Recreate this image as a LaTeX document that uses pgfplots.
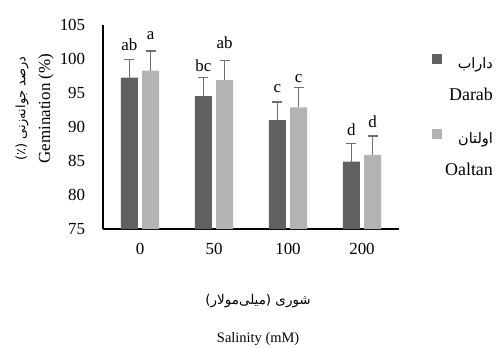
\documentclass[border=0pt]{standalone}
\usepackage{fontspec}
\setmainfont{Liberation Serif}
\newfontfamily\fa[Script=Arabic]{DejaVu Sans}
\TeXXeTstate=1
\usepackage{pgfplots}
\pgfplotsset{compat=1.18}
\definecolor{darkbar}{HTML}{606060}
\definecolor{lightbar}{HTML}{B3B3B3}
\definecolor{errc}{HTML}{6E6E6E}
\begin{document}
\fontsize{17}{20}\selectfont
\begin{tikzpicture}
\useasboundingbox (0,0) rectangle (497bp,-348bp);
\begin{axis}[
  at={(103bp,-229bp)}, anchor=south west,
  scale only axis, width=296bp, height=204bp,
  ymin=75, ymax=105, xmin=-0.5, xmax=3.5,
  axis x line*=bottom, axis y line*=left,
  axis line style={black, line width=1.6bp, -},
  ytick={75,80,...,105}, xtick={0,1,2,3}, xticklabels={0,50,100,200},
  major tick length=0pt,
  /pgf/number format/assume math mode=true,
  yticklabel style={xshift=-12bp},
  xticklabel style={yshift=-8bp},
  ybar, bar width=17bp,
  ylabel={{\fontsize{13}{15}\selectfont\fa\beginR درصد جوانه‌زنی (٪)\endR}\\[5bp]Gemination (\%)},
  ylabel style={align=center, at={(axis description cs:-0.231,0.59)}, anchor=center},
  xlabel={{\fontsize{13.5}{16}\selectfont\fa\beginR شوری (میلی‌مولار)\endR}\\[18bp]{\fontsize{14.5}{17}\selectfont Salinity (mM)}},
  xlabel style={align=center, at={(axis description cs:0.524,-0.445)}, anchor=center},
  legend image code/.code={\path (0,0); \fill[#1, overlay] (-13bp,15.7bp) rectangle (-3.5bp,25.7bp);},
  legend style={at={(axis description cs:1.145,0.852)}, anchor=north west, draw=none, fill=none,
    legend cell align=right, row sep=29.4bp, nodes={align=right, inner sep=0pt}},
]
\addplot[draw=none, fill=darkbar, bar shift=-10.7bp,
  error bars/.cd, y dir=plus, y explicit,
  error bar style={errc, line width=1.5bp},
  error mark options={rotate=90, mark size=5bp, errc, line width=1.5bp}]
  coordinates {(0,97.25) +- (0,2.7) (1,94.55) +- (0,2.7) (2,91.0) +- (0,2.7) (3,84.9) +- (0,2.7)};
\addplot[draw=none, fill=lightbar, bar shift=10.7bp,
  error bars/.cd, y dir=plus, y explicit,
  error bar style={errc, line width=1.5bp},
  error mark options={rotate=90, mark size=5bp, errc, line width=1.5bp}]
  coordinates {(0,98.3) +- (0,2.9) (1,96.9) +- (0,2.85) (2,92.9) +- (0,2.9) (3,85.9) +- (0,2.8)};
\addplot[draw=none, fill=none, bar shift=-10.7bp, forget plot, nodes near coords, point meta=explicit symbolic,
  nodes near coords style={anchor=base, inner sep=0pt, text=black}]
  coordinates {(0,101.3)[ab] (1,98.1)[bc] (2,95.1)[c] (3,88.8)[d]};
\addplot[draw=none, fill=none, bar shift=10.7bp, forget plot, nodes near coords, point meta=explicit symbolic,
  nodes near coords style={anchor=base, inner sep=0pt, text=black}]
  coordinates {(0,102.8)[a] (1,101.6)[ab] (2,96.6)[c] (3,89.9)[d]};
\legend{{\fontsize{14.5}{17}\selectfont\fa\beginR داراب\endR}\\[12bp]{\fontsize{18}{20}\selectfont Darab},
        {\fontsize{14.5}{17}\selectfont\fa\beginR اولتان\endR}\\[12bp]{\fontsize{18}{20}\selectfont Oaltan}}
\end{axis}
\end{tikzpicture}
\end{document}
